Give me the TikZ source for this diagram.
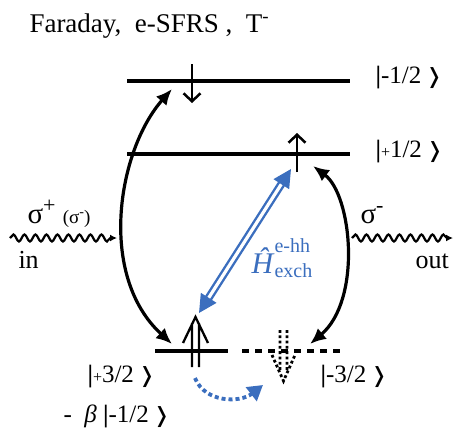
\documentclass[tikz,border=0pt]{standalone}
\usepackage{amsmath}
\usepackage{fontspec}
\setmainfont{Liberation Serif}
\newfontfamily\symfont{DejaVu Sans}
\usetikzlibrary{arrows.meta, decorations.pathmorphing}
\definecolor{exchblue}{RGB}{59,110,190}
\newcommand{\ketlab}[1]{\textbf{|}#1\,{\symfont\fontsize{21}{21}\selectfont ❭}}
\newcommand{\smallplus}{{\fontsize{16}{16}\selectfont +}}

\begin{document}
\begin{tikzpicture}[x=1pt, y=-1pt, line width=3pt,
  level/.style={line width=3.2pt},
  spin/.style={line width=2.5pt, -{Straight Barb[length=8pt, width=17pt, line width=2.5pt]}},
  trans/.style={line width=3.2pt, {Latex[length=16pt, width=14pt]}-{Latex[length=16pt, width=14pt]}},
  photon/.style={line width=2.2pt, decorate, decoration={snake, amplitude=3.5pt, segment length=11pt, post length=5pt}},
  exch/.style={draw=exchblue, line width=2.4pt, double=white, double distance=3.2pt,
    {Triangle[length=18pt, width=18pt]}-{Triangle[length=18pt, width=18pt]}},
  flip/.style={exchblue, line width=3.8pt, dash pattern=on 4pt off 3pt, -{Triangle[length=15pt, width=17pt]}},
  ket/.style={anchor=west, inner sep=0pt, font=\fontsize{25}{25}\selectfont}]
  \useasboundingbox (0,0) rectangle (454,431);

  % --- title ---
  \node[anchor=base west, inner sep=0pt, font=\fontsize{27}{30}\selectfont] (title) at (28,32)
    {Faraday,\ \ e-SFRS ,\ \ T\textsuperscript{-}};

  % --- levels ---
  \draw[level] (127,81) coordinate (top l) -- (350,81) coordinate (top r);
  \draw[level] (127,154) coordinate (mid l) -- (350,154) coordinate (mid r);
  \draw[level] (155,351) coordinate (bl l) -- (228,351) coordinate (bl r);
  \draw[level, dash pattern=on 7pt off 6pt] (242,351) coordinate (br l) -- (342,351) coordinate (br r);

  \node[ket] (k1) at (374,78) {\ketlab{-1/2}};
  \node[ket] (k2) at (374,152) {\ketlab{\smallplus1/2}};
  \node[ket] (k3) at (86,377) {\ketlab{\smallplus3/2}};
  \node[ket] (k4) at (319,377) {\ketlab{-3/2}};
  \node[ket] (k5) at (62,416) {-\ \ \textit{β} \ketlab{-1/2}};

  % --- spins ---
  \draw[spin] (192,64) -- (192,103);
  \draw[spin] (297,172) -- (297,133);
  \draw[line width=2.3pt] (192,367) -- (192,323) (199,367) -- (199,323)
    (183,343) -- (195.5,317) -- (208,343);
  \draw[line width=2.8pt, dash pattern=on 2.8pt off 2.5pt] (280,330) -- (280,372) (287,330) -- (287,372)
    (272,355) -- (283.5,381) -- (295,355);

  % --- optical transitions ---
  \coordinate (lt) at (172,89);
  \coordinate (lb) at (172,344);
  \coordinate (rt) at (313,166);
  \coordinate (rb) at (310,344);
  \draw[trans] (lt) .. controls (118,150) and (97,275) .. (lb);
  \draw[trans] (rt) .. controls (352,195) and (362,300) .. (rb);

  % --- photons ---
  \coordinate (in0) at (10,238);
  \coordinate (in1) at (117,238);
  \coordinate (out0) at (352,238);
  \coordinate (out1) at (453,238);
  \draw[photon, -{Latex[length=7pt, width=7pt]}] (in0) -- (in1);
  \draw[photon, -{Latex[length=7pt, width=7pt]}] (out0) -- (out1);
  \node[anchor=base west, inner sep=0pt, font=\fontsize{29}{29}\selectfont] (sp) at (26,223)
    {σ\raisebox{11pt}{\fontsize{22}{22}\selectfont +}\
     {\fontsize{19}{19}\selectfont (σ\raisebox{7pt}{\fontsize{14}{14}\selectfont -})}};
  \node[anchor=base west, inner sep=0pt, font=\fontsize{26}{26}\selectfont] (in) at (17,268) {in};
  \node[anchor=base west, inner sep=0pt, font=\fontsize{29}{29}\selectfont] (sm) at (359,223)
    {σ\raisebox{11pt}{\fontsize{22}{22}\selectfont -}};
  \node[anchor=base west, inner sep=0pt, font=\fontsize{26}{26}\selectfont] (out) at (414,268) {out};

  % --- exchange ---
  \coordinate (hb) at (199,313);
  \coordinate (ht) at (291,169);
  \draw[exch] (hb) -- (ht);
  \node[anchor=base west, inner sep=0pt, text=exchblue, font=\fontsize{30}{30}\selectfont] (hx) at (250,273)
    {\textit{Ĥ}\rlap{\raisebox{21pt}{\fontsize{20}{20}\selectfont e-hh}}\raisebox{-4pt}{\fontsize{20}{20}\selectfont exch}};
  \coordinate (fs) at (195,378);
  \coordinate (fe) at (263,385);
  \draw[flip] (fs) .. controls (205,403) and (240,403) .. (fe);
\end{tikzpicture}
\end{document}
